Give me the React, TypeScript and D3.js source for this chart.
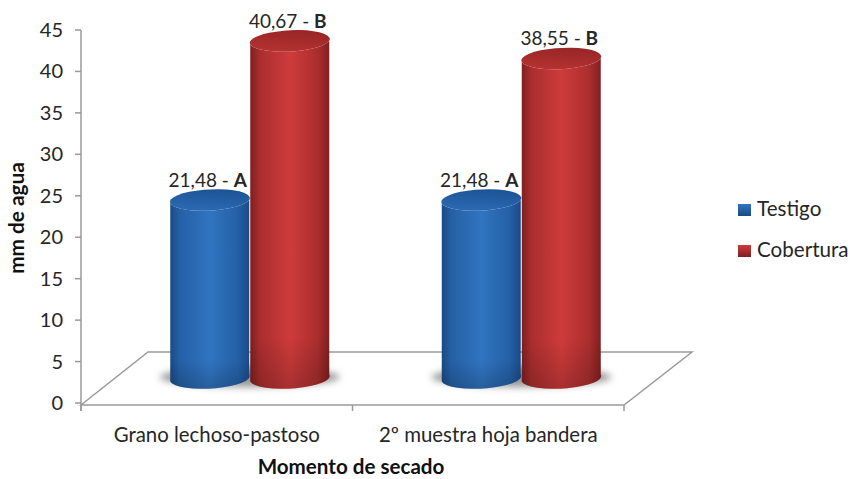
import React from "react";
import * as d3 from "d3";

const categories = ["Grano lechoso-pastoso", "2º muestra hoja bandera"];
const seriesNames = ["Testigo", "Cobertura"];
const testigo = [21.48, 21.48];
const cobertura = [40.67, 38.55];
const seriesValues = [testigo, cobertura];
const letters = ["A", "B"];
const yTicks = [0, 5, 10, 15, 20, 25, 30, 35, 40, 45];
const yTitle = "mm de agua";
const xTitle = "Momento de secado";

const W = 850;
const H = 479;
const FONT = "Lato, Carlito, 'Open Sans', sans-serif";
const AXIS = "#9a9a9a";
const TEXT = "#262626";

// Oblique projection of the floor: back edge is shifted right and up.
const depth = { dx: 67, dy: -53 };
const mid = { dx: 33, dy: -25 };
const RY = 10.5;
const TILT = 3.5; // vertical rise of the cylinder ends from left rim to centre

const x0 = d3.scaleBand<string>().domain(categories).range([81, 624]);
const y = d3.scaleLinear().domain([0, 45]).range([403, 30]);
const xInner = d3.scaleBand<string>().domain(seriesNames).range([-80, 80]);

const palette = [
  { edge: "#1a4a85", side: "#2460a6", light: "#3174c0", top: "#2c6cb6", topDark: "#1e5597" },
  { edge: "#7f1f1f", side: "#aa2e2e", light: "#cf3b3b", top: "#b83332", topDark: "#992726" },
];

const fmt = (v: number) => v.toFixed(2).replace(".", ",");

function Cylinder({ cx, rx, base, top, i }: { cx: number; rx: number; base: number; top: number; i: number }) {
  const lx = cx - rx;
  const rxEnd = cx + rx;
  const body =
    `M${lx},${top + TILT} L${lx},${base + TILT} ` +
    `A${rx},${RY} -3 0 0 ${rxEnd},${base - TILT} L${rxEnd},${top - TILT} ` +
    `A${rx},${RY} -3 0 1 ${lx},${top + TILT} Z`;
  const cap =
    `M${lx},${top + TILT} A${rx},${RY} -3 0 1 ${rxEnd},${top - TILT} ` +
    `A${rx},${RY} -3 0 1 ${lx},${top + TILT} Z`;
  return (
    <g>
      <path d={body} fill={`url(#body${i})`} />
      <path d={body} fill="url(#baseFade)" />
      <path d={cap} fill={`url(#top${i})`} />
    </g>
  );
}

export default function App() {
  const floor = d3.line()([
    [81, 405],
    [81 + depth.dx, 405 + depth.dy],
    [624 + depth.dx + 1, 405 + depth.dy],
    [624, 405],
  ]) + "Z";

  const bars = categories.flatMap((c, ci) =>
    seriesNames.map((s, si) => {
      const v = seriesValues[si][ci];
      const cx = (x0(c) as number) + x0.bandwidth() / 2 + mid.dx + (xInner(s) as number) + xInner.bandwidth() / 2;
      return { key: `${c}-${s}`, si, v, cx, rx: xInner.bandwidth() / 2 - 0.5, base: y(0) + mid.dy, top: y(v) + mid.dy };
    })
  );

  return (
    <svg width={W} height={H} style={{ position: "absolute", left: 0, top: 0, background: "#fff" }} fontFamily={FONT}>
      <defs>
        {palette.map((p, i) => (
          <React.Fragment key={i}>
            <linearGradient id={`body${i}`} x1="0" x2="1" y1="0" y2="0">
              <stop offset="0" stopColor={p.edge} />
              <stop offset="0.12" stopColor={p.side} />
              <stop offset="0.5" stopColor={p.light} />
              <stop offset="0.85" stopColor={p.side} />
              <stop offset="1" stopColor={p.edge} />
            </linearGradient>
            <linearGradient id={`top${i}`} x1="0" x2="0.25" y1="1" y2="0">
              <stop offset="0" stopColor={p.top} />
              <stop offset="1" stopColor={p.topDark} />
            </linearGradient>
            <linearGradient id={`leg${i}`} x1="0" x2="0" y1="0" y2="1">
              <stop offset="0" stopColor={p.light} />
              <stop offset="1" stopColor={p.edge} />
            </linearGradient>
          </React.Fragment>
        ))}
        <linearGradient id="baseFade" x1="0" x2="0" y1="0" y2="1">
          <stop offset="0.85" stopColor="#000" stopOpacity="0" />
          <stop offset="1" stopColor="#000" stopOpacity="0.18" />
        </linearGradient>
        <filter id="soft" x="-30%" y="-60%" width="160%" height="220%">
          <feGaussianBlur stdDeviation="3.5" />
        </filter>
      </defs>

      {/* floor and category ticks */}
      <path d={floor} fill="none" stroke={AXIS} strokeWidth={1.5} />
      <line x1={81} x2={81} y1={y(45)} y2={411} stroke={AXIS} strokeWidth={1.5} />
      {[...categories.map((c) => x0(c) as number), 624].map((t) => (
        <line key={t} x1={t} x2={t} y1={405} y2={411} stroke={AXIS} strokeWidth={1.5} />
      ))}

      {/* value axis */}
      {yTicks.map((t) => (
        <g key={t}>
          <line x1={75} x2={81} y1={y(t)} y2={y(t)} stroke={AXIS} strokeWidth={1.5} />
          <text x={63} y={y(t) + 7} textAnchor="end" fontSize={20} fill={TEXT}>{t}</text>
        </g>
      ))}

      {/* floor shadows sit under both cylinders */}
      {categories.map((c) => {
        const cx = (x0(c) as number) + x0.bandwidth() / 2 + mid.dx;
        return <ellipse key={c} cx={cx} cy={y(0) + mid.dy - 1} rx={90} ry={10} fill="#555" opacity={0.6} filter="url(#soft)" />;
      })}

      {bars.map((b) => (
        <Cylinder key={b.key} cx={b.cx} rx={b.rx} base={b.base} top={b.top} i={b.si} />
      ))}

      {/* value labels */}
      {bars.map((b) => (
        <text key={b.key} x={b.cx - 2} y={b.top - 13} textAnchor="middle" fontSize={19} fill={TEXT}>
          {fmt(b.v)} - <tspan fontWeight={700}>{letters[b.si]}</tspan>
        </text>
      ))}

      {categories.map((c) => (
        <text key={c} x={(x0(c) as number) + x0.bandwidth() / 2} y={442} textAnchor="middle" fontSize={20.4} fill={TEXT}>{c}</text>
      ))}

      <text x={351} y={474} textAnchor="middle" fontSize={20.6} fontWeight={700} fill="#111">{xTitle}</text>
      <text transform="translate(24,218) rotate(-90)" textAnchor="middle" fontSize={20.8} fontWeight={700} fill="#111">{yTitle}</text>

      {seriesNames.map((s, i) => (
        <g key={s} transform={`translate(0,${41 * i})`}>
          <rect x={738} y={204} width={13} height={12} fill={`url(#leg${i})`} />
          <text x={757} y={216} fontSize={20.6} fill={TEXT}>{s}</text>
        </g>
      ))}
    </svg>
  );
}
